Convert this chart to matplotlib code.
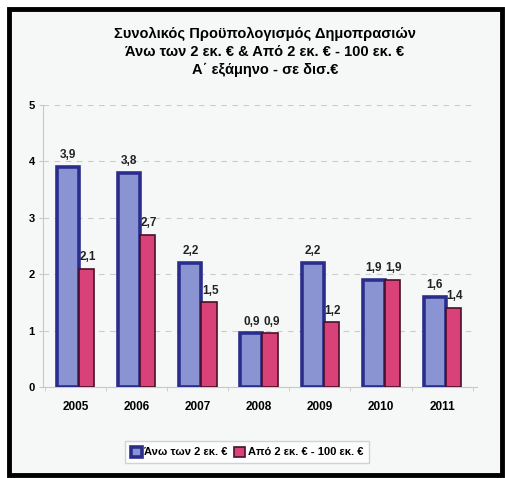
import numpy as np
import matplotlib
matplotlib.use("Agg")
import matplotlib.pyplot as plt
from matplotlib.patches import Rectangle

years = ["2005", "2006", "2007", "2008", "2009", "2010", "2011"]
above_2m = [3.9, 3.8, 2.2, 0.95, 2.2, 1.9, 1.6]
from_2m_to_100m = [2.1, 2.7, 1.5, 0.95, 1.15, 1.9, 1.4]
above_2m_labels = ["3,9", "3,8", "2,2", "0,9", "2,2", "1,9", "1,6"]
from_2m_labels = ["2,1", "2,7", "1,5", "0,9", "1,2", "1,9", "1,4"]
series_names = ["Άνω των 2 εκ. €", "Από 2 εκ. € - 100 εκ. €"]
title_lines = ["Συνολικός Προϋπολογισμός Δημοπρασιών",
               "Άνω των 2 εκ. € & Από 2 εκ. € - 100 εκ. €",
               "Α΄ εξάμηνο - σε δισ.€"]
yticks = [0, 1, 2, 3, 4, 5]

plt.rcParams['font.family'] = ['Liberation Sans', 'DejaVu Sans']

W, H = 506, 478
fig = plt.figure(figsize=(W / 100, H / 100), dpi=100)
fig.patch.set_facecolor("white")

# background axes holding the thick black frame
bg = fig.add_axes([0, 0, 1, 1], zorder=-1)
bg.set_xlim(0, W)
bg.set_ylim(H, 0)
bg.axis("off")
bg.add_patch(Rectangle((9, 9), 493, 466, facecolor="#f6f8f8",
                       edgecolor="black", linewidth=3.5))

ax = fig.add_axes([43 / W, 1 - 387 / H, 434 / W, 282 / H])
ax.set_facecolor("none")

x = np.arange(len(years))
w_blue, w_pink = 0.36, 0.25
x_blue = x - 0.12
x_pink = x + 0.06 + w_pink / 2

ax.bar(x_blue, above_2m, width=w_blue, color="#8b94d2", edgecolor="#2a2d8c",
       linewidth=2.6, zorder=3, label=series_names[0])
ax.bar(x_pink, from_2m_to_100m, width=w_pink, color="#d84279", edgecolor="#4a1028",
       linewidth=1.2, zorder=3, label=series_names[1])

for xi, v, s in zip(x_blue, above_2m, above_2m_labels):
    ax.text(xi, v + 0.1, s, ha="center", va="bottom", fontsize=8.5,
            fontweight="bold", color="#222222")
for xi, v, s in zip(x_pink, from_2m_to_100m, from_2m_labels):
    ax.text(xi + 0.02, v + 0.1, s, ha="center", va="bottom", fontsize=8.5,
            fontweight="bold", color="#222222")

ax.set_ylim(0, 5)
ax.set_xlim(-0.53, 6.57)
ax.set_yticks(yticks)
ax.set_yticklabels([str(t) for t in yticks], fontsize=8, fontweight="bold")
ax.set_xticks(x)
ax.set_xticklabels(years, fontsize=8.5, fontweight="bold")
ax.tick_params(axis="x", length=0, pad=10)
ax.tick_params(axis="y", length=3, color="#c8c8c8", pad=3)
ax.set_xticks(np.arange(len(years) + 1) - 0.5, minor=True)
ax.tick_params(axis="x", which="minor", length=3, color="#c8c8c8")

ax.yaxis.grid(True, linestyle=(0, (5, 5)), color="#c9cccc", linewidth=0.8, zorder=0)
ax.set_axisbelow(True)
for side in ["top", "right"]:
    ax.spines[side].set_visible(False)
ax.spines["left"].set_color("#c8c8c8")
ax.spines["bottom"].set_color("#c8c8c8")

fig.text(265 / W, 1 - 52 / H, "\n".join(title_lines), ha="center", va="center",
         fontsize=10.5, fontweight="bold", linespacing=1.35)

leg = fig.legend(loc="center", bbox_to_anchor=(247 / W, 1 - 452 / H), ncol=2,
                 prop={"weight": "bold", "size": 8},
                 frameon=True, fancybox=False, handlelength=1.0, handleheight=1.0,
                 handletextpad=0.2, columnspacing=0.6, borderpad=0.5)
leg.get_frame().set_edgecolor("#c8c8c8")
leg.get_frame().set_facecolor("white")

fig.savefig("out.png", dpi=100)
